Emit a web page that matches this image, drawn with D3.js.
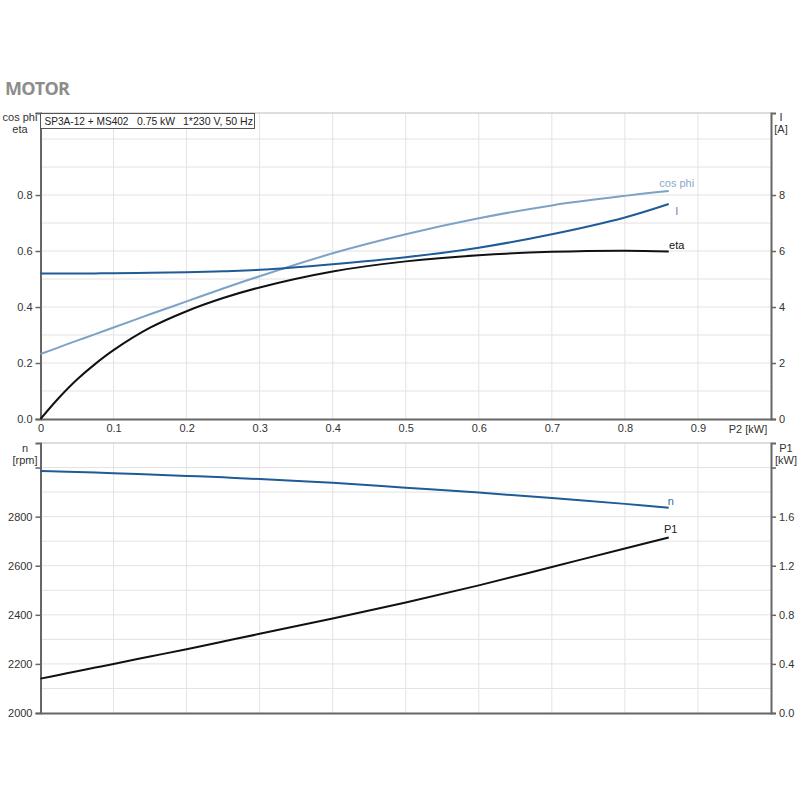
<!DOCTYPE html>
<html><head><meta charset="utf-8">
<script src="https://cdn.jsdelivr.net/npm/d3@7"></script>
<style>body{margin:0;background:#fff}svg{display:block;font-family:Arial,"Liberation Sans",sans-serif}</style>
</head><body><svg id="c" width="800" height="800"></svg>
<script>
const p2 = [0, 0.025, 0.05, 0.075, 0.1, 0.15, 0.2, 0.25, 0.3, 0.4, 0.5, 0.6, 0.7, 0.8, 0.86];
const cosphi = [0.232, 0.256, 0.28, 0.303, 0.327, 0.374, 0.42, 0.466, 0.51, 0.592, 0.66, 0.717, 0.763, 0.797, 0.814];
const current = [5.2, 5.2, 5.2, 5.2, 5.21, 5.22, 5.24, 5.28, 5.33, 5.53, 5.78, 6.12, 6.6, 7.2, 7.68];
const eta = [0, 0.075, 0.141, 0.197, 0.246, 0.326, 0.385, 0.432, 0.47, 0.527, 0.563, 0.585, 0.597, 0.601, 0.598];
const speed = [2986, 2984, 2982, 2980, 2977, 2972, 2966, 2960, 2953, 2938, 2918, 2898, 2876, 2852, 2836];
const p1 = [0.28, 0.31, 0.34, 0.37, 0.40, 0.46, 0.52, 0.582, 0.645, 0.77, 0.90, 1.04, 1.19, 1.34, 1.43];
const xTicks = [0, 0.1, 0.2, 0.3, 0.4, 0.5, 0.6, 0.7, 0.8, 0.9];
const etaTicks = [0, 0.2, 0.4, 0.6, 0.8];
const iTicks = [0, 2, 4, 6, 8];
const nTicks = [2000, 2200, 2400, 2600, 2800, 3000];
const p1Ticks = [0, 0.4, 0.8, 1.2, 1.6, 2.0];
const titleParts = ["SP3A-12 + MS402", "0.75 kW", "1*230 V, 50 Hz"];

const svg = d3.select("#c");
const L = 40.5, R = 771;
const x = d3.scaleLinear().domain([0, 1]).range([L, R]);
const yT = d3.scaleLinear().domain([0, 1.093]).range([419, 113]);
const yI = d3.scaleLinear().domain([0, 10.93]).range([419, 113]);
const yN = d3.scaleLinear().domain([2000, 3100]).range([713, 443]);
const yP = d3.scaleLinear().domain([0, 2.2]).range([713, 443]);
const grid = "#e3e3e3", axisC = "#666", txt = "#333";

svg.append("text").attr("x", 5).attr("y", 95).text("MOTOR")
  .attr("font-family", "'Open Sans',sans-serif").attr("font-weight", 700).attr("font-size", 18)
  .attr("fill", "#8c8c8c").attr("textLength", 65);

function panel(y0, y1, gridVals, yScale) {
  const g = svg.append("g");
  g.selectAll(".vg").data(d3.range(1, 10).map(d => d / 10)).join("line")
    .attr("x1", d => x(d)).attr("x2", d => x(d)).attr("y1", y0).attr("y2", y1)
    .attr("stroke", grid).attr("stroke-width", 1);
  g.selectAll(".hg").data(gridVals).join("line")
    .attr("x1", L).attr("x2", R).attr("y1", d => yScale(d)).attr("y2", d => yScale(d))
    .attr("stroke", grid).attr("stroke-width", 1);
  g.append("line").attr("x1", L).attr("x2", R).attr("y1", y0).attr("y2", y0).attr("stroke", "#bbb");
  return g;
}
panel(113, 419, d3.range(1, 11).map(d => d / 10), yT);
panel(443, 713, d3.range(2100, 3100, 100), yN);

function styleAxis(g) {
  g.selectAll("path").attr("stroke", axisC).attr("stroke-width", 2);
  g.selectAll("line").attr("stroke", axisC).attr("stroke-width", 1.5);
  g.selectAll("text").attr("fill", txt).attr("font-size", 11).attr("font-family", "Arial,'Liberation Sans',sans-serif");
}
styleAxis(svg.append("g").attr("transform", `translate(${L},0)`)
  .call(d3.axisLeft(yT).tickValues(etaTicks).tickFormat(d3.format(".1f")).tickSizeOuter(0).tickSize(5).tickPadding(3)));
styleAxis(svg.append("g").attr("transform", `translate(${R},0)`)
  .call(d3.axisRight(yI).tickValues(iTicks).tickFormat(d3.format("d")).tickSizeOuter(0).tickSize(5).tickPadding(3)));
styleAxis(svg.append("g").attr("transform", `translate(0,419)`)
  .call(d3.axisBottom(x).tickValues(xTicks).tickFormat(d => d === 0 ? "0" : d3.format(".1f")(d)).tickSizeOuter(0).tickSize(0).tickPadding(5)));
styleAxis(svg.append("g").attr("transform", `translate(${L},0)`)
  .call(d3.axisLeft(yN).tickValues(nTicks).tickFormat(d => d === 3000 ? "" : d).tickSizeOuter(0).tickSize(5).tickPadding(3)));
styleAxis(svg.append("g").attr("transform", `translate(${R},0)`)
  .call(d3.axisRight(yP).tickValues(p1Ticks).tickFormat(d => d === 2.0 ? "" : d3.format(".1f")(d)).tickSizeOuter(0).tickSize(5).tickPadding(3)));
styleAxis(svg.append("g").attr("transform", `translate(0,713)`)
  .call(d3.axisBottom(x).tickValues([]).tickSizeOuter(0)));

function label(xx, yy, t, anchor, col) {
  return svg.append("text").attr("x", xx).attr("y", yy).text(t).attr("text-anchor", anchor || "middle")
    .attr("font-size", 11).attr("fill", col || txt);
}
label(20, 121, "cos phi"); label(20, 133, "eta");
label(781, 121, "I"); label(781, 133, "[A]");
label(748, 433, "P2 [kW]", "middle");
label(25, 452, "n"); label(25, 464, "[rpm]");
label(786, 452, "P1"); label(786, 464, "[kW]");

svg.append("rect").attr("x", 40.5).attr("y", 113.5).attr("width", 214).attr("height", 15)
  .attr("fill", "#fff").attr("stroke", "#555").attr("stroke-width", 1);
const tx = [44.5, 137, 183], tw = [84, 38, 70];
titleParts.forEach((t, i) => label(tx[i], 125, t, "start", "#222").attr("textLength", tw[i]).attr("lengthAdjust", "spacingAndGlyphs"));

function curve(vals, ys, col) {
  const line = d3.line().x((d, i) => x(p2[i])).y(d => ys(d)).curve(d3.curveCatmullRom.alpha(0.5));
  svg.append("path").datum(vals).attr("d", line).attr("fill", "none").attr("stroke", col).attr("stroke-width", 2);
}
const cPhi = "#7ea2c6", cI = "#1f5b97", cBlk = "#111";
curve(cosphi, yT, cPhi);
curve(current, yI, cI);
curve(eta, yT, cBlk);
curve(speed, yN, cI);
curve(p1, yP, cBlk);

const last = p2.length - 1;
label(x(p2[last]) + 8, yT(cosphi[last]) - 4, "cos phi", "middle", "#8aa8c8");
label(x(p2[last]) + 8, yI(current[last]) + 11, "I", "middle", "#6684b4");
label(x(p2[last]) + 8, yT(eta[last]) - 3, "eta", "middle", "#111");
label(x(p2[last]) + 2, yN(speed[last]) - 3, "n", "middle", "#3a68a0");
label(x(p2[last]) + 2, yP(p1[last]) - 5, "P1", "middle", "#222");
</script></body></html>
